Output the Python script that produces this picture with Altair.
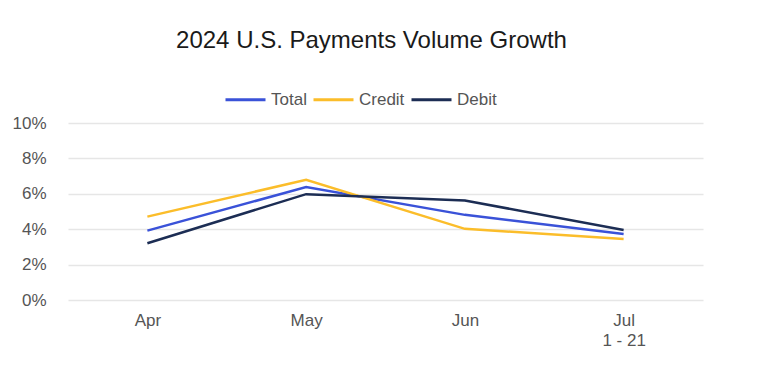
import altair as alt
import pandas as pd

months = ["Apr", "May", "Jun", "Jul 1 - 21"]
total = [3.92, 6.38, 4.81, 3.73]
credit = [4.71, 6.79, 4.02, 3.45]
debit = [3.21, 5.98, 5.62, 3.96]
series = ["Total", "Credit", "Debit"]
colors = ["#3a52d8", "#fbbd2a", "#1c2d54"]

rows = []
for name, vals in zip(series, [total, credit, debit]):
    for m, v in zip(months, vals):
        rows.append({"month": m, "series": name, "value": v / 100})
df = pd.DataFrame(rows)

FONT = "Liberation Sans"

chart = (
    alt.Chart(df)
    .mark_line(strokeWidth=2.5)
    .encode(
        x=alt.X(
            "month:N",
            sort=months,
            scale=alt.Scale(type="point", padding=0.5),
            axis=alt.Axis(
                title=None,
                labelAngle=0,
                domain=False,
                ticks=False,
                grid=False,
                labelFont=FONT,
                labelFontSize=17,
                labelColor="#555555",
                labelPadding=12,
                labelLineHeight=20,
                labelExpr="split(datum.label, ' ', 1)[0] == 'Jul' ? ['Jul', '1 - 21'] : datum.label",
            ),
        ),
        y=alt.Y(
            "value:Q",
            scale=alt.Scale(domain=[0, 0.10]),
            axis=alt.Axis(
                title=None,
                format=".0%",
                values=[0, 0.02, 0.04, 0.06, 0.08, 0.10],
                domain=False,
                ticks=False,
                gridColor="#e6e6e6",
                gridWidth=1.5,
                labelFont=FONT,
                labelFontSize=17,
                labelColor="#555555",
                labelPadding=22,
            ),
        ),
        color=alt.Color(
            "series:N",
            sort=series,
            scale=alt.Scale(domain=series, range=colors),
            legend=alt.Legend(
                title=None,
                orient="none",
                direction="horizontal",
                legendX=156,
                legendY=-45,
                symbolType="stroke",
                symbolSize=1600,
                symbolStrokeWidth=3,
                labelFont=FONT,
                labelFontSize=17,
                labelColor="#555555",
                labelOffset=4,
                columnPadding=0,
            ),
        ),
    )
    .properties(
        width=635,
        height=177,
        title=alt.Title(
            "2024 U.S. Payments Volume Growth",
            font=FONT,
            fontSize=24,
            fontWeight="normal",
            color="#1a1a1a",
            anchor="middle",
            dx=-14,
            offset=25,
        ),
        autosize=alt.AutoSizeParams(type="none"),
        padding={"left": 60, "top": 115, "right": 48, "bottom": 65},
    )
    .configure_view(stroke=None)
)

chart.save("out.html", embed_options={"renderer": "svg", "actions": False})
